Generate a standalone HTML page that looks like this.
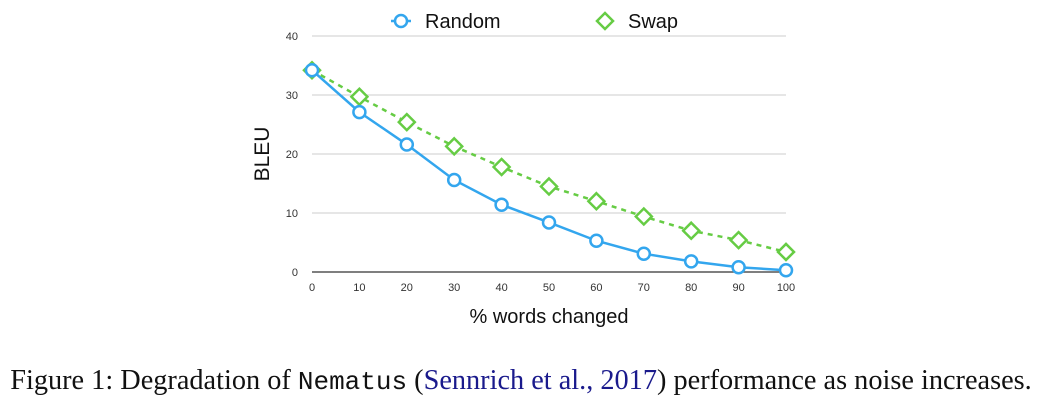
<!DOCTYPE html>
<html><head><meta charset="utf-8"><style>
body{margin:0;width:1042px;height:400px;background:#fff;overflow:hidden;position:relative}
svg{position:absolute;left:0;top:0}
#cap{position:absolute;left:0;width:1042px;top:364px;text-align:center;font-family:"Liberation Serif",serif;font-size:28.3px;line-height:34px;color:#111;white-space:nowrap}
#cap .mono{font-family:"Liberation Mono",monospace;font-size:26px}
#cap .cite{color:#1a1a8c}
</style></head><body>
<svg id="chart" width="1042" height="360"></svg>
<div id="cap">Figure 1: Degradation of <span class="mono">Nematus</span> (<span class="cite">Sennrich et al., 2017</span>) performance as noise increases.</div>
<script>
const categories=[0,10,20,30,40,50,60,70,80,90,100];
const randomVals=[34.2,27.1,21.6,15.6,11.4,8.4,5.3,3.1,1.8,0.8,0.3];
const swapVals=[34.2,29.7,25.4,21.3,17.8,14.5,12.0,9.4,7.0,5.4,3.4];
const yTicks=[0,10,20,30,40];
const NS="http://www.w3.org/2000/svg";
const svg=document.getElementById('chart');
const x0=312,x1=786,yB=272,yT=36;
const xs=v=>x0+(v-0)/(100)*(x1-x0);
const ys=v=>yB-v/40*(yB-yT);
function mk(t,a){const e=document.createElementNS(NS,t);for(const k in a)e.setAttribute(k,a[k]);svg.appendChild(e);return e;}
yTicks.forEach(t=>{
 const l=mk('line',{x1:x0,x2:x1,y1:ys(t),y2:ys(t),stroke:t===0?'#555':'#ccc','stroke-width':t===0?1.5:1});
 
 
 const tx=mk('text',{x:298,y:ys(t)+4,'text-anchor':'end','font-family':'Liberation Sans,sans-serif','font-size':11,fill:'#333'});
 tx.textContent=t;
 
 
});
categories.forEach(c=>{
 const tx=mk('text',{x:xs(c),y:291,'text-anchor':'middle','font-family':'Liberation Sans,sans-serif','font-size':11,fill:'#333'});
 tx.textContent=c;
 
 
});
const yt=mk('text',{x:0,y:0,transform:'translate(269,154) rotate(-90)','text-anchor':'middle','font-family':'Liberation Sans,sans-serif','font-size':21,fill:'#111'});
yt.textContent='BLEU';


const xt=mk('text',{x:549,y:323,'text-anchor':'middle','font-family':'Liberation Sans,sans-serif','font-size':20,fill:'#111'});
xt.textContent='% words changed';


const sp=mk('polyline',{points:categories.map((c,i)=>xs(c)+','+ys(swapVals[i])).join(' '),fill:'none',stroke:'#66cc44','stroke-width':2.5,'stroke-dasharray':'5,5'});


const rp=mk('polyline',{points:categories.map((c,i)=>xs(c)+','+ys(randomVals[i])).join(' '),fill:'none',stroke:'#33a6ee','stroke-width':2.5});


function diamond(cx,cy){return mk('polygon',{points:`${cx},${cy-8} ${cx+8},${cy} ${cx},${cy+8} ${cx-8},${cy}`,fill:'#fff',stroke:'#66cc44','stroke-width':2.5});}
categories.forEach((c,i)=>{
 const d=diamond(xs(c),ys(swapVals[i]));
 
 
});
categories.forEach((c,i)=>{
 const p=mk('circle',{cx:xs(c),cy:ys(randomVals[i]),r:6,fill:'#fff',stroke:'#33a6ee','stroke-width':2.5});
 
 
});
const ll=mk('line',{x1:391,x2:411,y1:21,y2:21,stroke:'#33a6ee','stroke-width':2.5});


const lc=mk('circle',{cx:401,cy:21,r:6,fill:'#fff',stroke:'#33a6ee','stroke-width':2.5});


const lt1=mk('text',{x:425,y:28,'font-family':'Liberation Sans,sans-serif','font-size':20,fill:'#111'});
lt1.textContent='Random';


const ld=diamond(605,21);


const lt2=mk('text',{x:628,y:28,'font-family':'Liberation Sans,sans-serif','font-size':20,fill:'#111'});
lt2.textContent='Swap';


</script>
</body></html>
